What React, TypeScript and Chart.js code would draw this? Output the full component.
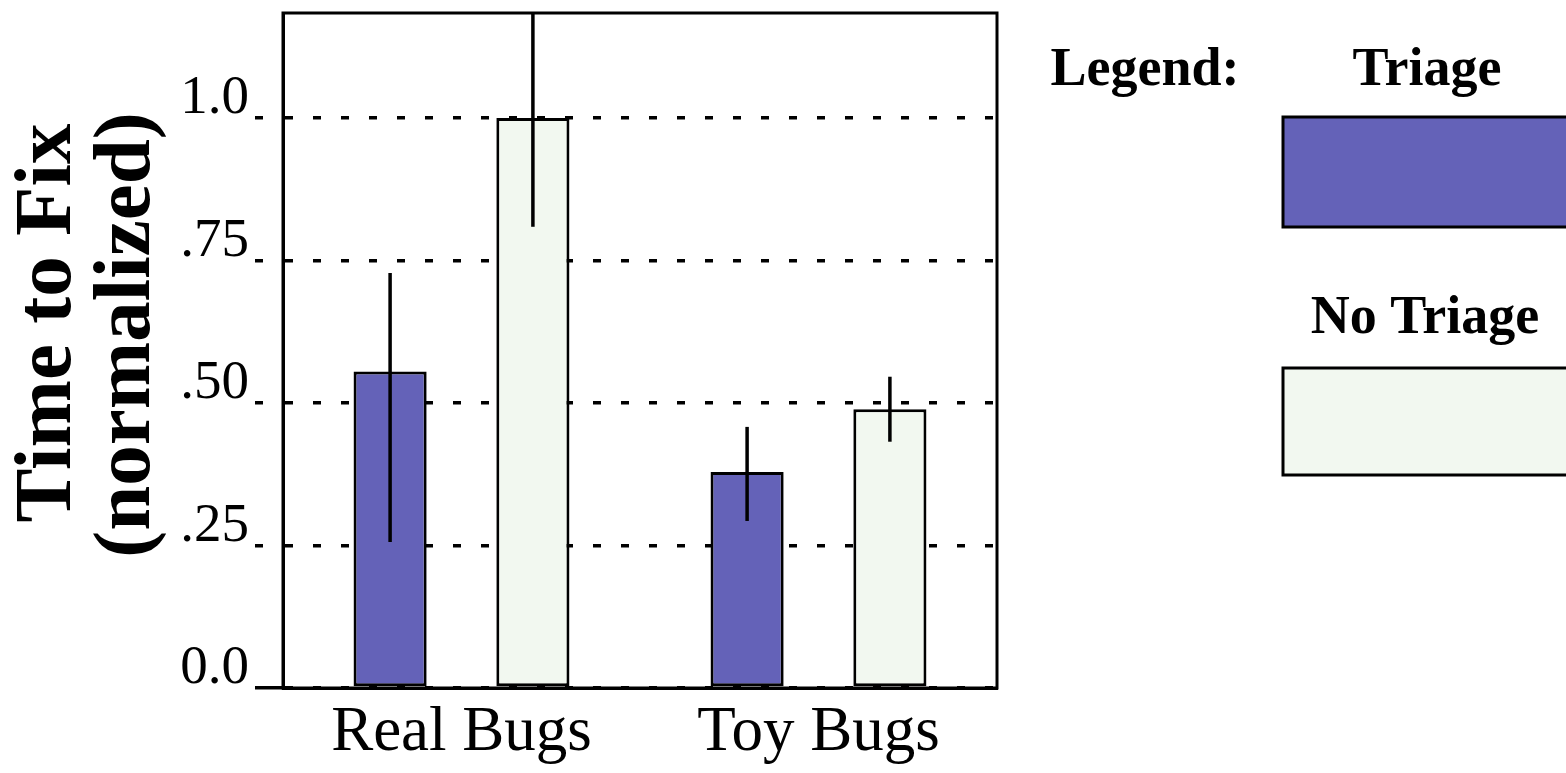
import React, { useEffect, useRef } from 'react';
import { Chart, registerables } from 'chart.js';

Chart.register(...registerables);

const categories = ['Real Bugs', 'Toy Bugs'];
const seriesNames = ['Triage', 'No Triage'];
const seriesColors = ['#6462b8', '#f2f8f0'];
const triageValues = [0.555, 0.379];
const triageErrLow = [0.256, 0.293];
const triageErrHigh = [0.728, 0.458];
const noTriageValues = [1.0, 0.489];
const noTriageErrLow = [0.809, 0.432];
const noTriageErrHigh = [1.19, 0.546];
const yTickValues = [0, 0.25, 0.5, 0.75, 1.0];
const yTickLabels = ['0.0', '.25', '.50', '.75', '1.0'];
const yMax = 1.184;
const yTitleLines = ['Time to Fix', '(normalized)'];
const legendHeading = 'Legend:';

const FONT = "'Liberation Serif', 'Times New Roman', serif";

export default function App() {
  const ref = useRef<HTMLCanvasElement>(null);

  useEffect(() => {
    const errLows = [triageErrLow, noTriageErrLow];
    const errHighs = [triageErrHigh, noTriageErrHigh];

    const errorBars = {
      id: 'errorBars',
      afterDatasetsDraw(chart: any) {
        const ctx = chart.ctx;
        const y = chart.scales.y;
        const a = chart.chartArea;
        ctx.save();
        ctx.beginPath();
        ctx.rect(a.left, a.top, a.right - a.left, a.bottom - a.top);
        ctx.clip();
        ctx.strokeStyle = '#000';
        ctx.lineWidth = 3.5;
        chart.data.datasets.forEach((_ds: any, di: number) => {
          const meta = chart.getDatasetMeta(di);
          meta.data.forEach((bar: any, i: number) => {
            ctx.beginPath();
            ctx.moveTo(bar.x, y.getPixelForValue(errLows[di][i]));
            ctx.lineTo(bar.x, y.getPixelForValue(errHighs[di][i]));
            ctx.stroke();
          });
        });
        ctx.restore();
        ctx.save();
        ctx.strokeStyle = '#000';
        ctx.lineWidth = 3;
        ctx.strokeRect(a.left, a.top, a.right - a.left, a.bottom - a.top);
        ctx.restore();
      },
    };

    const decorations = {
      id: 'decorations',
      afterDraw(chart: any) {
        const ctx = chart.ctx;
        ctx.save();
        ctx.fillStyle = '#000';
        // y-axis title
        ctx.font = `bold 81px ${FONT}`;
        ctx.textAlign = 'center';
        ctx.textBaseline = 'alphabetic';
        const titlePos = [
          [70, 323],
          [149, 335],
        ];
        yTitleLines.forEach((line, i) => {
          ctx.save();
          ctx.translate(titlePos[i][0], titlePos[i][1]);
          ctx.rotate(-Math.PI / 2);
          ctx.fillText(line, 0, 0);
          ctx.restore();
        });
        // legend
        ctx.font = `bold 54px ${FONT}`;
        ctx.fillText(legendHeading, 1145, 85);
        const legendText = [
          [1427, 85],
          [1425, 333],
        ];
        const legendRect = [
          [117, 227],
          [368, 475],
        ];
        chart.data.datasets.forEach((ds: any, i: number) => {
          ctx.fillStyle = '#000';
          ctx.fillText(ds.label, legendText[i][0], legendText[i][1]);
          const top = legendRect[i][0];
          const h = legendRect[i][1] - top;
          ctx.fillStyle = ds.backgroundColor;
          ctx.fillRect(1283, top, 400, h);
          ctx.strokeStyle = '#000';
          ctx.lineWidth = 3;
          ctx.strokeRect(1283, top, 400, h);
        });
        ctx.restore();
      },
    };

    const chart = new Chart(ref.current as HTMLCanvasElement, {
      type: 'bar',
      data: {
        labels: categories,
        datasets: [
          {
            label: seriesNames[0],
            data: triageValues,
            backgroundColor: seriesColors[0],
            borderColor: '#000',
            borderWidth: 3,
            borderSkipped: false,
          },
          {
            label: seriesNames[1],
            data: noTriageValues,
            backgroundColor: seriesColors[1],
            borderColor: '#000',
            borderWidth: 3,
            borderSkipped: false,
          },
        ],
      },
      options: {
        responsive: false,
        animation: false,
        devicePixelRatio: 1,
        categoryPercentage: 0.8,
        barPercentage: 0.512,
        layout: { padding: { left: 0, top: 13, right: 569, bottom: 0 } },
        plugins: {
          legend: { display: false },
          tooltip: { enabled: false },
          title: { display: false },
        },
        scales: {
          x: {
            type: 'category',
            offset: true,
            grid: { display: false, drawTicks: false },
            border: { display: true, color: '#000', width: 3 },
            ticks: {
              color: '#000',
              font: { family: FONT, size: 63, lineHeight: 1.0 },
              padding: 14,
              maxRotation: 0,
              autoSkip: false,
            },
            afterFit: (scale: any) => {
              scale.height = 85;
            },
          },
          y: {
            type: 'linear',
            min: 0,
            max: yMax,
            afterBuildTicks: (scale: any) => {
              scale.ticks = yTickValues.map((v) => ({ value: v }));
            },
            afterFit: (scale: any) => {
              scale.width = 283;
              scale.paddingTop = 0;
              scale.paddingBottom = 0;
            },
            grid: {
              color: '#000',
              lineWidth: 3.5,
              tickLength: 28,
              tickBorderDash: (c: any) => (c.tick && c.tick.value === 0 ? [] : [8, 20]),
            },
            border: { display: true, color: '#000', width: 3, dash: [8, 20] },
            ticks: {
              color: '#000',
              font: { family: FONT, size: 55, lineHeight: 1.0 },
              padding: 6,
              labelOffset: -19,
              callback: (_v: any, i: number) => yTickLabels[i],
            },
          },
        },
      },
      plugins: [errorBars, decorations],
    } as any);

    return () => chart.destroy();
  }, []);

  return (
    <div style={{ position: 'fixed', left: 0, top: 0, width: 1566, height: 773, background: '#fff' }}>
      <canvas ref={ref} width={1566} height={773} style={{ display: 'block' }} />
    </div>
  );
}
